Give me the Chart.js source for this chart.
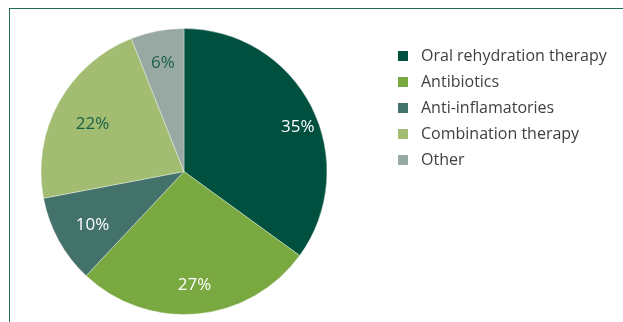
<!DOCTYPE html>
<html>
<head>
<meta charset="utf-8">
<script src="https://cdn.jsdelivr.net/npm/chart.js@4"></script>
<style>
  html, body { margin: 0; padding: 0; background: #fff; }
  #wrap { position: relative; width: 623px; height: 322px; overflow: hidden; }
  #frame { position: absolute; left: 9px; top: 8px; width: 700px; height: 400px;
           border-top: 1.5px solid #1f6b58; border-left: 1.5px solid #1f6b58; }
  #pie { position: absolute; left: 0; top: 0; }
  #legend { position: absolute; left: 398px; top: 42px; margin: 0; padding: 0; list-style: none;
            font-family: "Open Sans", sans-serif; font-size: 16px; color: #3f3f3f; }
  #legend li { height: 26px; line-height: 26px; white-space: nowrap; }
  #legend span { display: inline-block; width: 10px; height: 10px; margin-right: 13px; vertical-align: -0px; }
</style>
</head>
<body>
<div id="wrap">
  <div id="frame"></div>
  <canvas id="pie" width="623" height="322"></canvas>
  <ul id="legend"></ul>
</div>
<script>
// data
const categories = ['Oral rehydration therapy', 'Antibiotics', 'Anti-inflamatories', 'Combination therapy', 'Other'];
const shares = [35, 27, 10, 22, 6];

// styles
const sliceColors = ['#00503f', '#7aa942', '#43726a', '#a2bd72', '#98a9a4'];
const labelColors = ['#ffffff', '#ffffff', '#ffffff', '#1b5e48', '#1b5e48'];
const labelRadius = [0.86, 0.78, 0.73, 0.73, 0.79];

// percent labels inside the slices
const sliceLabels = {
    id: 'sliceLabels',
    afterDatasetsDraw(chart) {
        const ctx = chart.ctx;
        const meta = chart.getDatasetMeta(0);
        ctx.save();
        ctx.font = '17px "Open Sans", sans-serif';
        ctx.textAlign = 'center';
        ctx.textBaseline = 'middle';
        meta.data.forEach((arc, i) => {
            const p = arc.getProps(['x', 'y', 'startAngle', 'endAngle', 'outerRadius'], true);
            const mid = (p.startAngle + p.endAngle) / 2 + (i === 0 ? 0.08 : 0);
            const r = p.outerRadius * labelRadius[i];
            ctx.fillStyle = labelColors[i];
            ctx.fillText(shares[i] + '%', p.x + Math.cos(mid) * r, p.y + Math.sin(mid) * r + 3);
        });
        ctx.restore();
    }
};

function buildLegend() {
    const ul = document.getElementById('legend');
    categories.forEach((name, i) => {
        const li = document.createElement('li');
        const box = document.createElement('span');
        box.style.background = sliceColors[i];
        li.appendChild(box);
        li.appendChild(document.createTextNode(name));
        ul.appendChild(li);
    });
}

function initChart() {
    const ctx = document.getElementById('pie').getContext('2d');
    new Chart(ctx, {
        type: 'pie',
        data: {
            labels: categories,
            datasets: [{
                data: shares,
                backgroundColor: sliceColors,
                borderColor: 'rgba(255,255,255,0.35)',
                borderWidth: 1
            }]
        },
        options: {
            responsive: false,
            animation: false,
            layout: { padding: { left: 40, top: 28, right: 295, bottom: 7 } },
            plugins: {
                legend: { display: false },
                tooltip: { enabled: false }
            }
        },
        plugins: [sliceLabels]
    });
}

buildLegend();
initChart();
</script>
</body>
</html>
